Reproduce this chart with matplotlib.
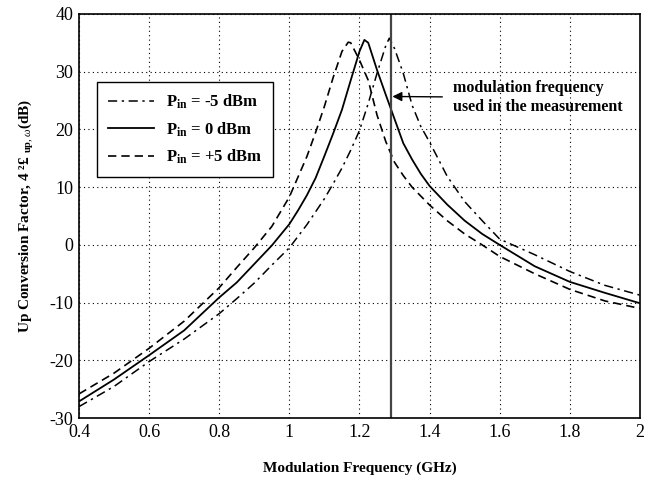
import matplotlib
matplotlib.use("Agg")
import matplotlib.pyplot as plt

plt.rcParams['font.family'] = ['Liberation Serif', 'DejaVu Serif']
plt.rcParams['mathtext.fontset'] = 'custom'
plt.rcParams['mathtext.rm'] = 'Liberation Serif'
plt.rcParams['mathtext.it'] = 'Liberation Serif:italic'
plt.rcParams['mathtext.bf'] = 'Liberation Serif:bold'
plt.rcParams['axes.unicode_minus'] = False

# Pin = -5 dBm (dash-dot)
freq_m5 = [0.40, 0.50, 0.60, 0.70, 0.80, 0.85, 0.90, 0.95, 1.00, 1.05, 1.10, 1.125,
           1.15, 1.175, 1.20, 1.225, 1.25, 1.275, 1.285, 1.30, 1.325, 1.35, 1.375,
           1.40, 1.45, 1.50, 1.55, 1.60, 1.70, 1.80, 1.90, 2.00]
gain_m5 = [-28.0, -24.5, -20.2, -16.3, -11.9, -9.3, -6.6, -3.5, -0.5, 3.5, 8.0, 10.6,
           13.3, 16.4, 19.8, 24.5, 29.7, 34.5, 35.8, 34.0, 29.7, 24.2, 20.5,
           17.8, 11.9, 7.5, 4.2, 1.0, -1.7, -4.6, -7.0, -8.7]

# Pin = 0 dBm (solid)
freq_0 = [0.40, 0.50, 0.60, 0.70, 0.80, 0.85, 0.90, 0.95, 1.00, 1.025, 1.05, 1.075,
          1.10, 1.125, 1.15, 1.175, 1.19, 1.20, 1.214, 1.225, 1.25, 1.275, 1.30,
          1.325, 1.35, 1.375, 1.40, 1.45, 1.50, 1.55, 1.60, 1.70, 1.80, 1.90, 2.00]
gain_0 = [-27.1, -23.3, -19.1, -14.8, -9.1, -6.5, -3.3, -0.1, 3.6, 6.0, 8.6, 11.6,
          15.4, 19.3, 23.4, 28.5, 31.5, 33.5, 35.5, 35.0, 30.3, 26.0, 21.8,
          17.6, 14.8, 12.3, 10.2, 7.0, 4.2, 1.9, 0.0, -3.7, -6.4, -8.3, -10.1]

# Pin = +5 dBm (dashed)
freq_p5 = [0.40, 0.50, 0.60, 0.70, 0.80, 0.85, 0.90, 0.95, 1.00, 1.025, 1.05, 1.075,
           1.10, 1.125, 1.15, 1.168, 1.175, 1.20, 1.225, 1.25, 1.275, 1.30, 1.325,
           1.35, 1.40, 1.45, 1.50, 1.55, 1.60, 1.70, 1.80, 1.90, 2.00]
gain_p5 = [-25.8, -22.2, -17.9, -13.2, -7.4, -3.9, -0.5, 3.2, 8.3, 11.8, 15.3, 19.5,
           24.0, 29.0, 33.5, 35.1, 35.0, 32.0, 28.5, 22.5, 17.9, 14.3, 12.0,
           10.0, 6.9, 4.2, 1.9, 0.0, -2.0, -5.0, -7.7, -9.7, -11.0]

meas_freq = 1.29
xticks = [0.4, 0.6, 0.8, 1, 1.2, 1.4, 1.6, 1.8, 2]
xtick_labels = ['0.4', '0.6', '0.8', '1', '1.2', '1.4', '1.6', '1.8', '2']
yticks = [-30, -20, -10, 0, 10, 20, 30, 40]

fig = plt.figure(figsize=(6.53, 4.79), dpi=100)
ax = fig.add_axes([0.121, 0.127, 0.859, 0.844])

ax.plot(freq_m5, gain_m5, color='black', lw=1.1, linestyle=(0, (6, 3, 1.5, 3)),
        label=r'P$_{\mathbf{in}}$ = -5 dBm')
ax.plot(freq_0, gain_0, color='black', lw=1.3, linestyle='-',
        label=r'P$_{\mathbf{in}}$ = 0 dBm')
ax.plot(freq_p5, gain_p5, color='black', lw=1.2, linestyle=(0, (5, 3)),
        label=r'P$_{\mathbf{in}}$ = +5 dBm')

ax.axvline(meas_freq, color='#444444', lw=1.6)

ax.annotate('modulation frequency\nused in the measurement', xy=(meas_freq, 25.7),
            xytext=(1.468, 25.5), ha='left', va='center', fontsize=11.5,
            fontweight='bold', linespacing=1.25,
            arrowprops=dict(arrowstyle='-|>', color='black', lw=1.0,
                            mutation_scale=14, shrinkA=6, shrinkB=1))

ax.set_xlim(0.4, 2.0)
ax.set_ylim(-30, 40)
ax.set_xticks(xticks)
ax.set_xticklabels(xtick_labels)
ax.set_yticks(yticks)
ax.tick_params(axis='both', length=0, labelsize=13, pad=4)
ax.grid(True, color='black', linestyle=(0, (1, 3)), lw=0.8)
for sp in ax.spines.values():
    sp.set_linewidth(1.2)

ax.set_xlabel('Modulation Frequency (GHz)', fontsize=11, fontweight='bold', labelpad=15)
ax.set_ylabel(r'Up Conversion Factor, 4 ²£ $_{\mathbf{up},\omega}$(dB)',
              fontsize=11, fontweight='bold', labelpad=10)

leg = ax.legend(loc='upper left', bbox_to_anchor=(0.032, 0.832),
                prop={'weight': 'bold', 'size': 12}, frameon=True, fancybox=False,
                edgecolor='black', handlelength=2.8, handletextpad=0.7,
                borderpad=0.65, labelspacing=0.55, borderaxespad=0)
leg.get_frame().set_linewidth(1.0)
leg.get_frame().set_alpha(1)

fig.savefig('out.png', dpi=100)
